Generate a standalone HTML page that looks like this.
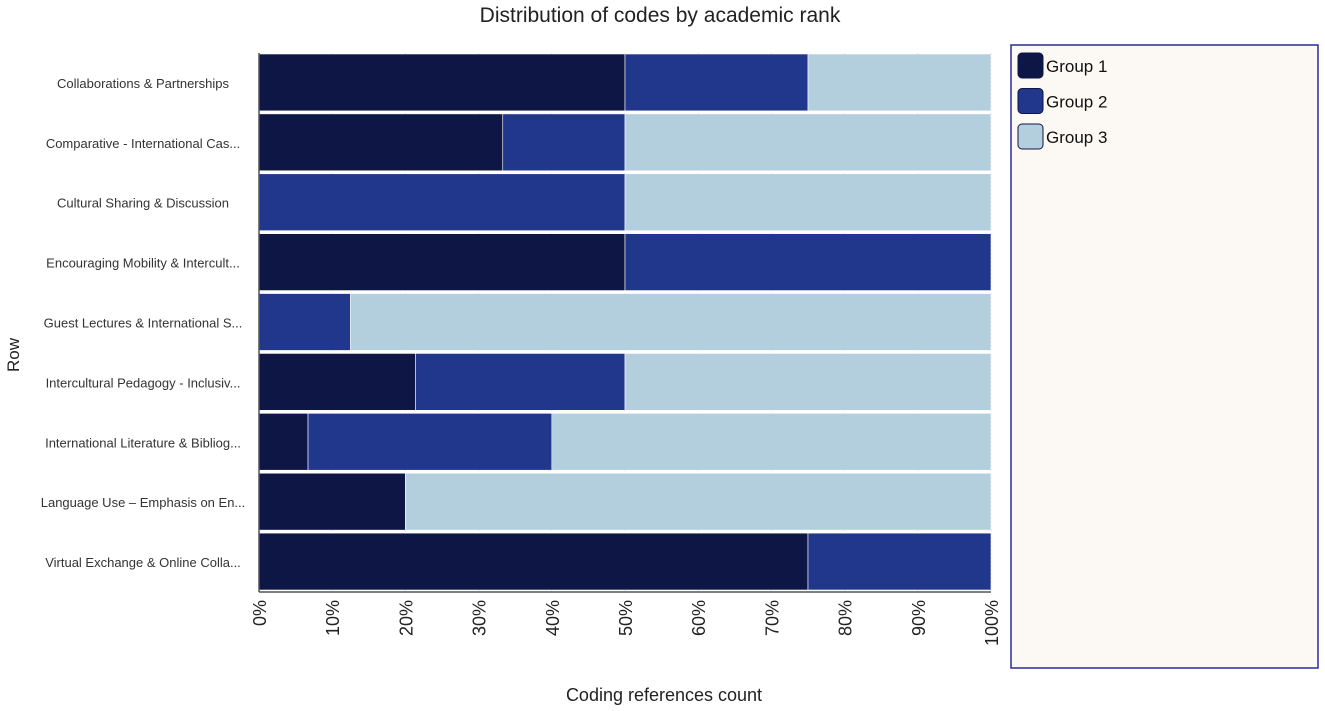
<!DOCTYPE html>
<html><head><meta charset="utf-8"><style>
body{margin:0;background:#fff;font-family:"Liberation Sans",sans-serif}
</style></head><body>
<svg width="1325" height="706" xmlns="http://www.w3.org/2000/svg">
<text x="660" y="22" text-anchor="middle" font-size="21" fill="#222">Distribution of codes by academic rank</text>
<g id="plot"></g>
<text x="664" y="701" text-anchor="middle" font-size="18" fill="#222">Coding references count</text>
<text transform="translate(19,355) rotate(-90)" text-anchor="middle" font-size="17" fill="#222">Row</text>
<rect x="1011" y="45" width="307" height="623" fill="#fcf9f5" stroke="#2a2a9a" stroke-width="1.5"/>
<g id="legend"></g>
</svg>
<script>
const categories=["Collaborations & Partnerships","Comparative - International Cas...","Cultural Sharing & Discussion","Encouraging Mobility & Intercult...","Guest Lectures & International S...","Intercultural Pedagogy - Inclusiv...","International Literature & Bibliog...","Language Use – Emphasis on En...","Virtual Exchange & Online Colla..."];
const group1=[50,33.3,0,50,0,21.4,6.7,20,75];
const group2=[25,16.7,50,50,12.5,28.6,33.3,0,25];
const group3=[25,50,50,0,87.5,50,60,80,0];
const seriesNames=["Group 1","Group 2","Group 3"];
const ticks=[0,10,20,30,40,50,60,70,80,90,100];
const colors=["#0d1645","#21378c","#b3cedc"];
const NS="http://www.w3.org/2000/svg";
const x0=259,x1=991,y0=53,y1=592;
const xs=v=>x0+(x1-x0)*v/100;
const band=(y1-y0)/categories.length;
const ys=i=>y0+band*i;
const plot=document.getElementById('plot');
function mk(t,a,p){const e=document.createElementNS(NS,t);for(const k in a)e.setAttribute(k,a[k]);(p||plot).appendChild(e);return e;}
ticks.forEach(t=>{
 const g=mk('line',{x1:xs(t),x2:xs(t),y1:y0,y2:y1,stroke:'#ccc','stroke-dasharray':'2,2'});
 
 
 const l=mk('text',{transform:`translate(${xs(t)+7},${y1+8}) rotate(-90)`,'text-anchor':'end','font-size':18,fill:'#222'});
 l.textContent=t+'%';
 
 
});
const series=[group1,group2,group3];
categories.forEach((c,i)=>{
 let acc=0;
 series.forEach((s,k)=>{
  const v=s[i];
  if(v>0){
   const r=mk('rect',{x:xs(acc),y:ys(i)+1,width:xs(acc+v)-xs(acc),height:band-3,fill:colors[k],stroke:'#fff','stroke-width':0.6});
   
   
  }
  acc+=v;
 });
 const t=mk('text',{x:143,y:ys(i)+band/2+5,'text-anchor':'middle','font-size':13,fill:'#333'});
 t.textContent=c;
 
 
});
const ax=mk('line',{x1:x0,x2:x1,y1:y1,y2:y1,stroke:'#555','stroke-width':1.5});


const ay=mk('line',{x1:x0,x2:x0,y1:y0,y2:y1,stroke:'#555','stroke-width':1.5});


const lg=document.getElementById('legend');
seriesNames.forEach((n,k)=>{
 const r=mk('rect',{x:1018,y:53+k*35.5,width:25,height:25,rx:4,fill:colors[k],stroke:'#0d1645','stroke-width':1},lg);
 
 
 const t=mk('text',{x:1046,y:72+k*35.5,'font-size':17,fill:'#111'},lg);
 t.textContent=n;
 
 
});
</script>
</body></html>
